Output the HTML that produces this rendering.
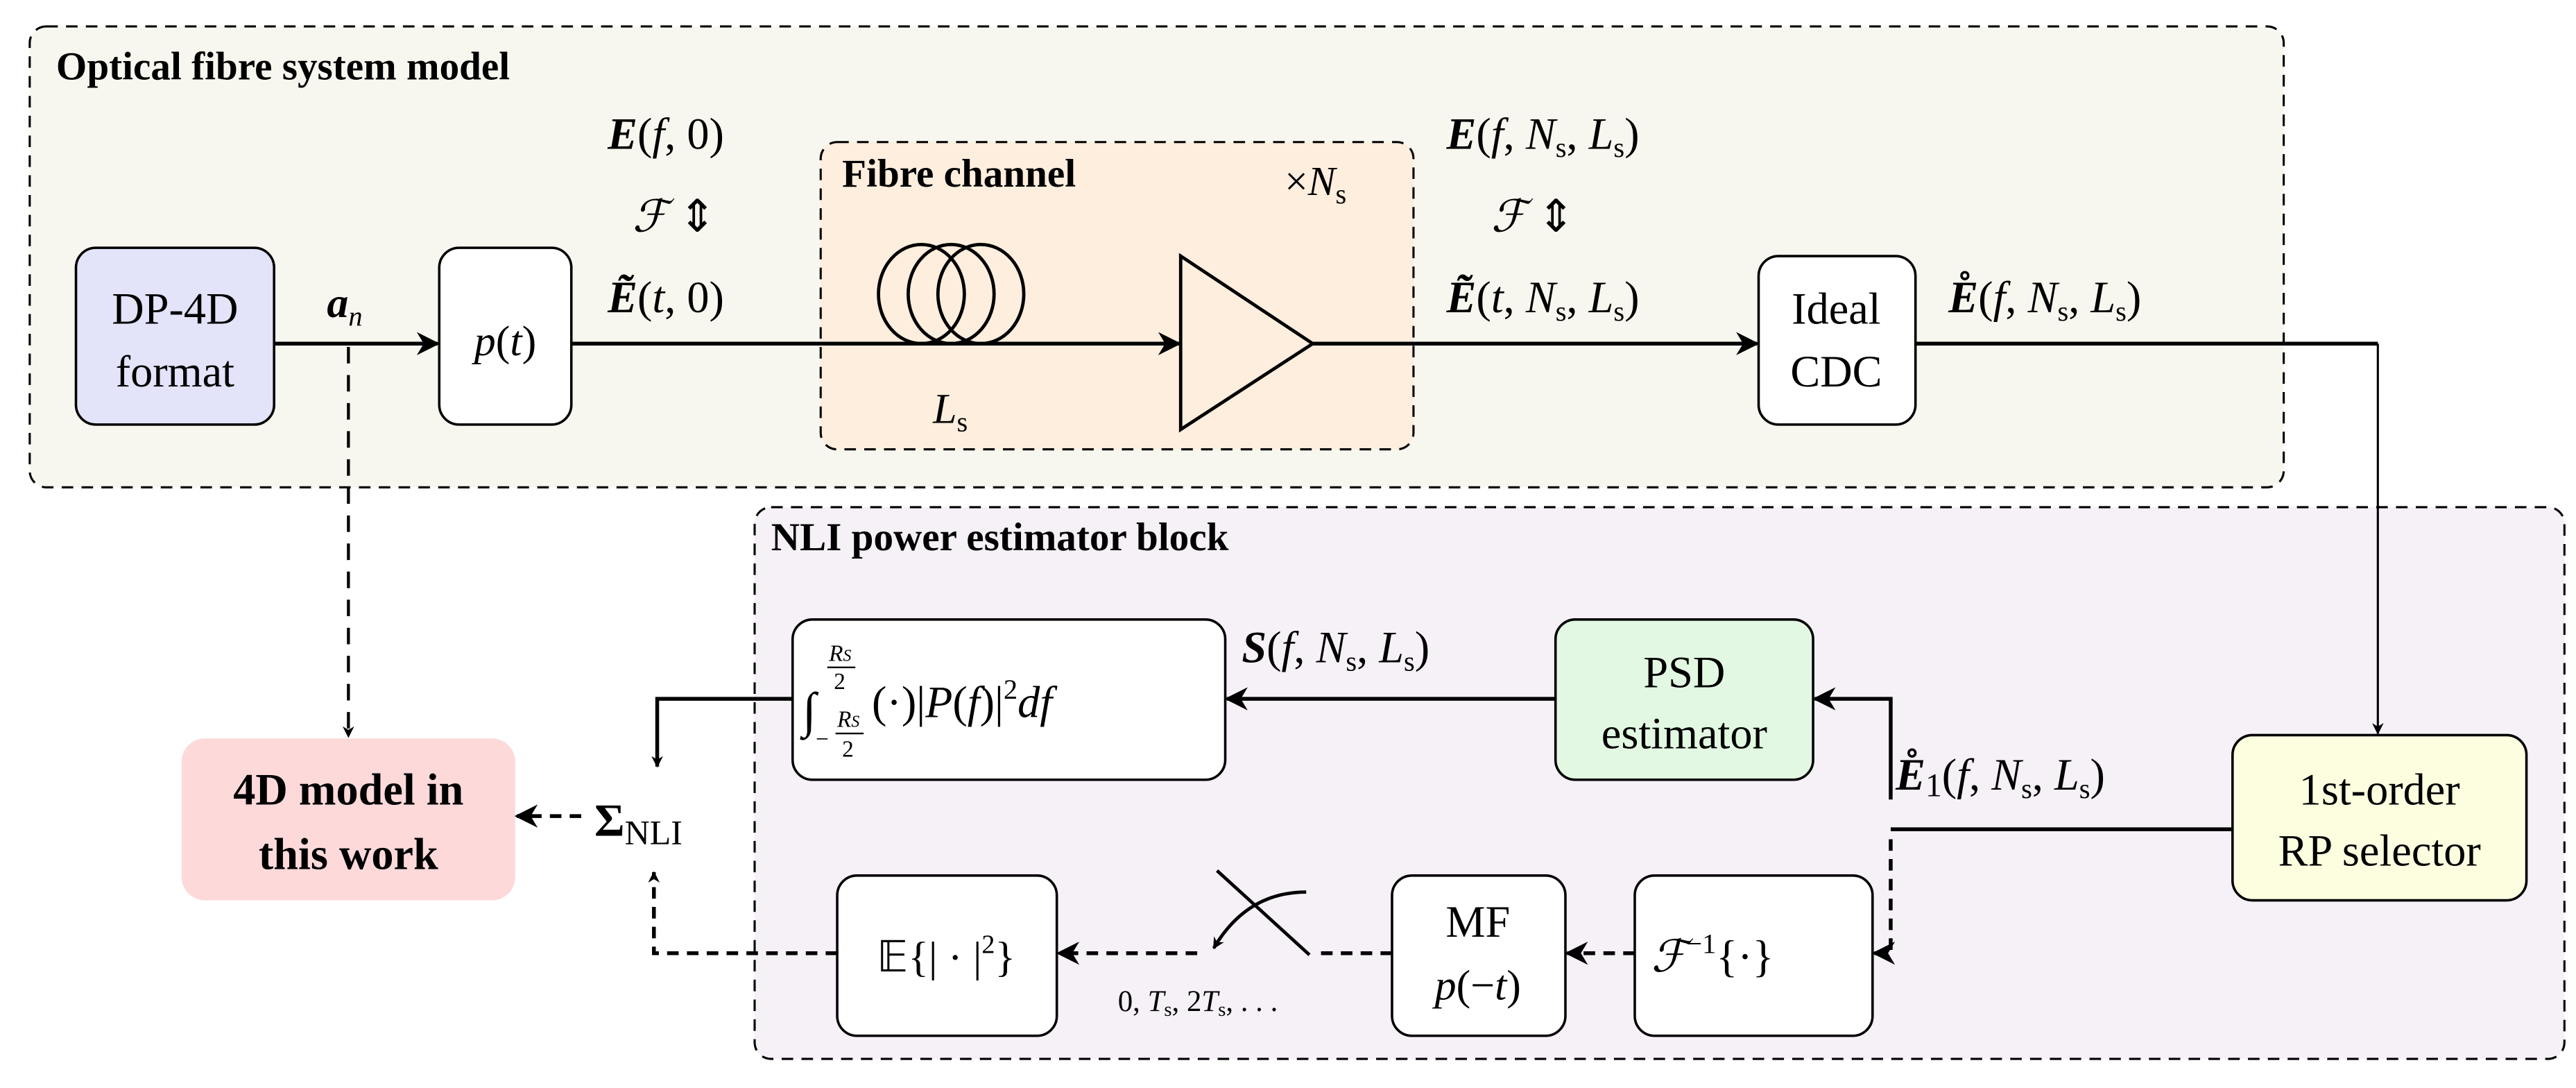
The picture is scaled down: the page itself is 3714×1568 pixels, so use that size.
<!DOCTYPE html>
<html><head><meta charset="utf-8"><style>
html,body{margin:0;padding:0;background:#fff;}
svg{display:block;font-family:"Liberation Serif",serif;}
text{font-family:"Liberation Serif",serif;fill:#000;}
.it{font-style:italic;}
.b{font-weight:bold;}
</style></head><body>
<svg width="3714" height="1568" viewBox="0 0 1560 658.6" xmlns="http://www.w3.org/2000/svg" font-family="Liberation Serif, serif">
<defs>
<marker id="ar" viewBox="0 0 10 10" refX="9" refY="5" markerWidth="7" markerHeight="7" orient="auto" markerUnits="userSpaceOnUse">
<path d="M0,0 L10,5 L0,10 L3,5 Z" fill="#000"/></marker>
<marker id="a2" viewBox="0 0 10 10" refX="9" refY="5" markerWidth="14" markerHeight="14" orient="auto" markerUnits="userSpaceOnUse">
<path d="M0,0 L10,5 L0,10 L3,5 Z" fill="#000"/></marker>
</defs>
<rect x="18" y="16" width="1365" height="279" rx="10" fill="#f7f7ef" stroke="#000" stroke-width="1.3" stroke-dasharray="7,5"/>
<rect x="497" y="86" width="359" height="186" rx="10" fill="#fdeedd" stroke="#000" stroke-width="1.3" stroke-dasharray="7,5"/>
<rect x="457" y="307" width="1096" height="334" rx="10" fill="#f6f0f7" stroke="#000" stroke-width="1.3" stroke-dasharray="7,5"/>
<text x="34" y="48" font-size="24" class="b">Optical fibre system model</text>
<text x="510" y="113" font-size="24" class="b">Fibre channel</text>
<text x="778" y="118" font-size="25">×<tspan class="it">N</tspan><tspan font-size="17" dy="5">s</tspan></text>
<text x="467" y="333" font-size="24" class="b">NLI power estimator block</text>

<rect x="46" y="150" width="120" height="107" rx="12" fill="#e3e3fa" stroke="#000" stroke-width="1.5"/>
<text x="106" y="196" font-size="27" text-anchor="middle">DP-4D</text>
<text x="106" y="234" font-size="27" text-anchor="middle">format</text>
<rect x="266" y="150" width="80" height="107" rx="12" fill="#fff" stroke="#000" stroke-width="1.5"/>
<text x="306" y="215" font-size="26" text-anchor="middle"><tspan class="it">p</tspan>(<tspan class="it">t</tspan>)</text>
<rect x="1065" y="155" width="95" height="102" rx="12" fill="#fff" stroke="#000" stroke-width="1.5"/>
<text x="1112" y="196" font-size="27" text-anchor="middle">Ideal</text>
<text x="1112" y="234" font-size="27" text-anchor="middle">CDC</text>
<rect x="1352" y="445" width="178" height="100" rx="12" fill="#fdfde0" stroke="#000" stroke-width="1.5"/>
<text x="1441" y="487" font-size="27" text-anchor="middle">1st-order</text>
<text x="1441" y="524" font-size="27" text-anchor="middle">RP selector</text>
<rect x="942" y="375" width="156" height="97" rx="12" fill="#e2f8e2" stroke="#000" stroke-width="1.5"/>
<text x="1020" y="416" font-size="27" text-anchor="middle">PSD</text>
<text x="1020" y="453" font-size="27" text-anchor="middle">estimator</text>
<rect x="480" y="375" width="262" height="97" rx="12" fill="#fff" stroke="#000" stroke-width="1.5"/>
<text x="486" y="440" font-size="30" class="it">∫</text>
<text x="502" y="400" font-size="14" class="it">R<tspan font-size="10">S</tspan></text>
<line x1="501" y1="404" x2="518" y2="404" stroke="#000" stroke-width="1"/>
<text x="505" y="417" font-size="14">2</text>
<text x="494" y="452" font-size="14">−</text>
<text x="507" y="440" font-size="14" class="it">R<tspan font-size="10">S</tspan></text>
<line x1="506" y1="444" x2="523" y2="444" stroke="#000" stroke-width="1"/>
<text x="510" y="458" font-size="14">2</text>
<text x="528" y="434" font-size="27">(·)|<tspan class="it">P</tspan>(<tspan class="it">f</tspan>)|<tspan font-size="17" dy="-11">2</tspan><tspan dy="11" class="it">df</tspan></text>
<rect x="990" y="530" width="144" height="97" rx="12" fill="#fff" stroke="#000" stroke-width="1.5"/>
<text x="1000" y="588" font-size="27"><tspan class="it">ℱ</tspan><tspan font-size="17" dy="-11">−1</tspan><tspan dy="11">{·}</tspan></text>
<rect x="843" y="530" width="105" height="97" rx="12" fill="#fff" stroke="#000" stroke-width="1.5"/>
<text x="895" y="567" font-size="27" text-anchor="middle">MF</text>
<text x="895" y="605" font-size="26" text-anchor="middle"><tspan class="it">p</tspan>(−<tspan class="it">t</tspan>)</text>
<rect x="507" y="530" width="133" height="97" rx="12" fill="#fff" stroke="#000" stroke-width="1.5"/>
<text x="573" y="588" font-size="26" text-anchor="middle">𝔼{| · |<tspan font-size="16" dy="-11">2</tspan><tspan dy="11">}</tspan></text>
<rect x="110" y="447" width="202" height="98" rx="14" fill="#fdd9da"/>
<text x="211" y="487" font-size="27" class="b" text-anchor="middle">4D model in</text>
<text x="211" y="526" font-size="27" class="b" text-anchor="middle">this work</text>

<g fill="none" stroke="#000" stroke-width="2">
<ellipse cx="558" cy="178" rx="26" ry="30"/>
<ellipse cx="576" cy="178" rx="26" ry="30"/>
<ellipse cx="594" cy="178" rx="26" ry="30"/>
</g>
<polygon points="715,155 795,208 715,260" fill="#fdeedd" stroke="#000" stroke-width="2"/>
<text x="565" y="256" font-size="26" class="it">L<tspan font-size="17" dy="5" font-style="normal">s</tspan></text>

<text x="368" y="90" font-size="27"><tspan class="it b">E</tspan>(<tspan class="it">f</tspan>, 0)</text>
<text x="383" y="140" font-size="27"><tspan class="it">ℱ</tspan> ⇕</text>
<text x="368" y="189" font-size="27"><tspan class="it b">Ẽ</tspan>(<tspan class="it">t</tspan>, 0)</text>
<text x="198" y="192" font-size="26" class="it b">a<tspan font-size="17" dy="5" font-weight="normal">n</tspan></text>
<text x="876" y="90" font-size="27"><tspan class="it b">E</tspan>(<tspan class="it">f</tspan>, <tspan class="it">N</tspan><tspan font-size="17" dy="5">s</tspan><tspan dy="-5">, </tspan><tspan class="it">L</tspan><tspan font-size="17" dy="5">s</tspan><tspan dy="-5">)</tspan></text>
<text x="903" y="140" font-size="27"><tspan class="it">ℱ</tspan> ⇕</text>
<text x="876" y="189" font-size="27"><tspan class="it b">Ẽ</tspan>(<tspan class="it">t</tspan>, <tspan class="it">N</tspan><tspan font-size="17" dy="5">s</tspan><tspan dy="-5">, </tspan><tspan class="it">L</tspan><tspan font-size="17" dy="5">s</tspan><tspan dy="-5">)</tspan></text>
<text x="1180" y="189" font-size="27"><tspan class="it b">E̊</tspan>(<tspan class="it">f</tspan>, <tspan class="it">N</tspan><tspan font-size="17" dy="5">s</tspan><tspan dy="-5">, </tspan><tspan class="it">L</tspan><tspan font-size="17" dy="5">s</tspan><tspan dy="-5">)</tspan></text>
<text x="752" y="401" font-size="27"><tspan class="it b">S</tspan>(<tspan class="it">f</tspan>, <tspan class="it">N</tspan><tspan font-size="17" dy="5">s</tspan><tspan dy="-5">, </tspan><tspan class="it">L</tspan><tspan font-size="17" dy="5">s</tspan><tspan dy="-5">)</tspan></text>
<text x="1148" y="478" font-size="27"><tspan class="it b">E̊</tspan><tspan font-size="20" dy="4">1</tspan><tspan dy="-4">(</tspan><tspan class="it">f</tspan>, <tspan class="it">N</tspan><tspan font-size="17" dy="5">s</tspan><tspan dy="-5">, </tspan><tspan class="it">L</tspan><tspan font-size="17" dy="5">s</tspan><tspan dy="-5">)</tspan></text>
<text x="360" y="506" font-size="28"><tspan class="b">Σ</tspan><tspan font-size="21" dy="5">NLI</tspan></text>
<text x="677" y="612" font-size="18">0, <tspan class="it">T</tspan><tspan font-size="12" dy="3">s</tspan><tspan dy="-3">, 2</tspan><tspan class="it">T</tspan><tspan font-size="12" dy="3">s</tspan><tspan dy="-3">, . . .</tspan></text>

<g fill="none" stroke="#000" stroke-width="2.3">
<line x1="166" y1="208" x2="265" y2="208" marker-end="url(#a2)"/>
<line x1="346" y1="208" x2="714" y2="208" marker-end="url(#a2)"/>
<line x1="795" y1="208" x2="1064" y2="208" marker-end="url(#a2)"/>
<polyline points="1160,208 1440,208"/>
<polyline points="1352,502 1145,502"/>
<polyline points="1145,484 1145,423 1099,423" marker-end="url(#a2)"/>
<line x1="942" y1="423" x2="743" y2="423" marker-end="url(#a2)"/>
<polyline points="480,423 398,423 398,464" marker-end="url(#ar)"/>
</g>
<line x1="1440" y1="208" x2="1440" y2="444" stroke="#000" stroke-width="1.3" marker-end="url(#ar)"/>
<g fill="none" stroke="#000" stroke-width="2.3" stroke-dasharray="7,5">
<polyline points="1145,508 1145,577 1135,577" marker-end="url(#a2)"/>
<line x1="990" y1="577" x2="949" y2="577" marker-end="url(#a2)"/>
<line x1="843" y1="577" x2="800" y2="577"/>
<line x1="725" y1="577" x2="641" y2="577" marker-end="url(#a2)"/>
<polyline points="507,577 396,577 396,528" marker-end="url(#ar)"/>
<line x1="352" y1="494" x2="313" y2="494" marker-end="url(#a2)"/>
</g>
<line x1="211" y1="210" x2="211" y2="446" stroke="#000" stroke-width="1.8" stroke-dasharray="10,7" marker-end="url(#ar)"/>
<line x1="737" y1="527" x2="793" y2="578" stroke="#000" stroke-width="2"/>
<path d="M791,540 Q755,540 735,574" fill="none" stroke="#000" stroke-width="2" marker-end="url(#ar)"/>
</svg>
</body></html>
